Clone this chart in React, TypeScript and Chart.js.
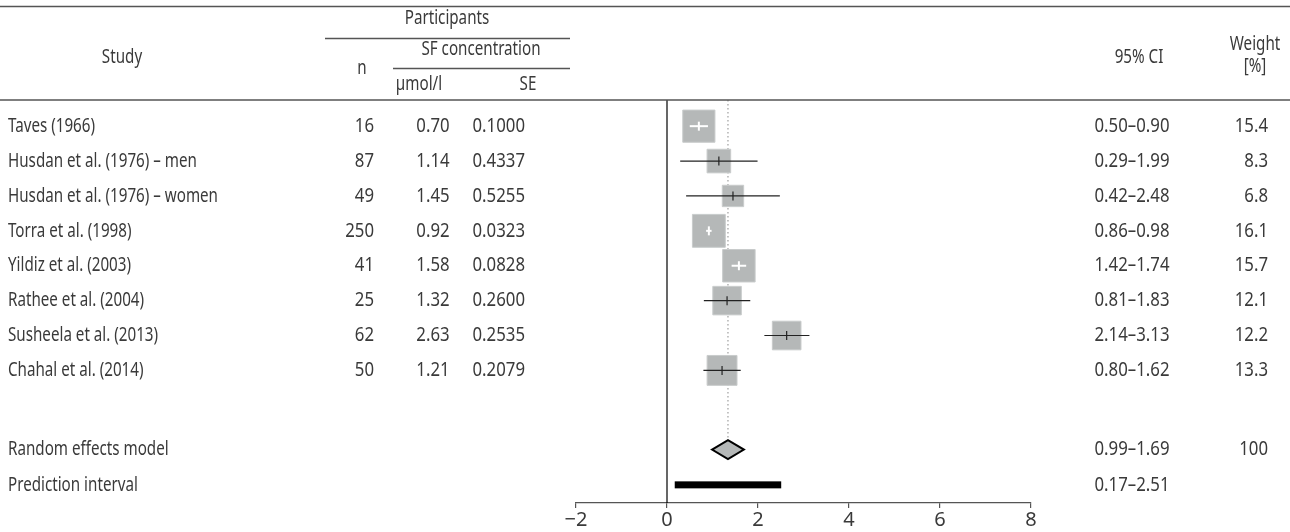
import React, { useEffect, useRef } from "react";
import { Chart, registerables } from "chart.js";

Chart.register(...registerables);

// ---------- data ----------
const studies = [
  "Taves (1966)",
  "Husdan et al. (1976) \u2013 men",
  "Husdan et al. (1976) \u2013 women",
  "Torra et al. (1998)",
  "Yildiz et al. (2003)",
  "Rathee et al. (2004)",
  "Susheela et al. (2013)",
  "Chahal et al. (2014)",
];
const nParticipants = [16, 87, 49, 250, 41, 25, 62, 50];
const meanConc = [0.7, 1.14, 1.45, 0.92, 1.58, 1.32, 2.63, 1.21];
const seConc = [0.1, 0.4337, 0.5255, 0.0323, 0.0828, 0.26, 0.2535, 0.2079];
const ciLower = [0.5, 0.29, 0.42, 0.86, 1.42, 0.81, 2.14, 0.8];
const ciUpper = [0.9, 1.99, 2.48, 0.98, 1.74, 1.83, 3.13, 1.62];
const weights = [15.4, 8.3, 6.8, 16.1, 15.7, 12.1, 12.2, 13.3];

const pooledEst = 1.34;
const pooledLower = 0.99;
const pooledUpper = 1.69;
const pooledWeight = 100;
const predLower = 0.17;
const predUpper = 2.51;

const xTicks = [-2, 0, 2, 4, 6, 8];

// row positions (in row units)
const RE_ROW = 9.27;
const PI_ROW = 10.28;

const FONT = '"Noto Sans", "Open Sans", sans-serif';
const FS = 20;
const TEXT = "#3a3a3a";
const LINE = "#555555";
const SQ_FILL = "#b5b8b8";
// condensed look: target widths of reference strings
const LABEL_TARGET_W = 210; // width of the longest study label
const NUM_TARGET_W = 75; // width of a "0.00–0.00" interval

const fmt2 = (v: number) => v.toFixed(2);
const ciText = (a: number, b: number) => `${fmt2(a)}\u2013${fmt2(b)}`;
const sideFor = (w: number) => 8.2 * Math.sqrt(w);

export default function App() {
  const ref = useRef<HTMLCanvasElement | null>(null);

  useEffect(() => {
    document.body.style.margin = "0";
    let chart: Chart | null = null;
    let cancelled = false;

    const tablePlugin = {
      id: "forestExtras",
      beforeDatasetsDraw(c: any) {
        const ctx = c.ctx as CanvasRenderingContext2D;
        const xs = c.scales.x;
        const ys = c.scales.y;
        const area = c.chartArea;
        ctx.save();
        const px = xs.getPixelForValue(pooledEst);
        const diamondTop = ys.getPixelForValue(RE_ROW) - 10;
        ctx.strokeStyle = "#8a8a8a";
        ctx.lineWidth = 1;
        ctx.setLineDash([1.5, 2.5]);
        ctx.beginPath();
        ctx.moveTo(px, area.top);
        ctx.lineTo(px, diamondTop);
        ctx.stroke();
        ctx.setLineDash([]);
        const zx = xs.getPixelForValue(0);
        ctx.strokeStyle = "#000";
        ctx.lineWidth = 1.2;
        ctx.beginPath();
        ctx.moveTo(zx, area.top);
        ctx.lineTo(zx, area.bottom);
        ctx.stroke();
        ctx.restore();
      },
      afterDatasetsDraw(c: any) {
        const ctx = c.ctx as CanvasRenderingContext2D;
        const xs = c.scales.x;
        const ys = c.scales.y;
        ctx.save();
        studies.forEach((_, i) => {
          const y = ys.getPixelForValue(i);
          const xm = xs.getPixelForValue(meanConc[i]);
          const xl = xs.getPixelForValue(ciLower[i]);
          const xh = xs.getPixelForValue(ciUpper[i]);
          const half = sideFor(weights[i]) / 2;
          const inside = xl >= xm - half && xh <= xm + half;
          ctx.strokeStyle = inside ? "#ffffff" : "#222222";
          ctx.lineWidth = inside ? 2 : 1.2;
          ctx.beginPath();
          ctx.moveTo(xl, y);
          ctx.lineTo(xh, y);
          ctx.stroke();
          ctx.beginPath();
          ctx.moveTo(xm, y - 4.5);
          ctx.lineTo(xm, y + 4.5);
          ctx.stroke();
        });
        const dy = ys.getPixelForValue(RE_ROW);
        const dl = xs.getPixelForValue(pooledLower);
        const dh = xs.getPixelForValue(pooledUpper);
        const dm = xs.getPixelForValue(pooledEst);
        ctx.beginPath();
        ctx.moveTo(dl, dy);
        ctx.lineTo(dm, dy - 9.5);
        ctx.lineTo(dh, dy);
        ctx.lineTo(dm, dy + 9.5);
        ctx.closePath();
        ctx.fillStyle = SQ_FILL;
        ctx.fill();
        ctx.strokeStyle = "#000";
        ctx.lineWidth = 2;
        ctx.stroke();
        const py = ys.getPixelForValue(PI_ROW);
        const pl = xs.getPixelForValue(predLower);
        const ph = xs.getPixelForValue(predUpper);
        ctx.fillStyle = "#000";
        ctx.fillRect(pl, py - 3.5, ph - pl, 7);
        ctx.restore();
      },
      afterDraw(c: any) {
        const ctx = c.ctx as CanvasRenderingContext2D;
        const ys = c.scales.y;
        const area = c.chartArea;
        const W = c.width;
        ctx.save();
        ctx.strokeStyle = LINE;
        ctx.lineWidth = 1.6;
        const hl = (x1: number, x2: number, y: number) => {
          ctx.beginPath();
          ctx.moveTo(x1, y);
          ctx.lineTo(x2, y);
          ctx.stroke();
        };
        hl(0, W, 6.5);
        hl(325, 570, 38.5);
        hl(393, 570, 68.5);
        hl(0, W, area.top);

        ctx.fillStyle = TEXT;
        ctx.font = `${FS}px ${FONT}`;
        ctx.textBaseline = "middle";
        const sxLabel = LABEL_TARGET_W / ctx.measureText(studies[2]).width;
        const sxNum = NUM_TARGET_W / ctx.measureText(ciText(0.5, 0.9)).width;
        const txt = (s: string, x: number, y: number, align: CanvasTextAlign, sx: number) => {
          ctx.save();
          ctx.translate(x, y);
          ctx.scale(sx, 1);
          ctx.textAlign = align;
          ctx.fillText(s, 0, 0);
          ctx.restore();
        };
        // header text
        txt("Study", 122, 57, "center", sxLabel);
        txt("n", 362, 68, "center", sxLabel);
        txt("Participants", 447, 18, "center", sxLabel);
        txt("SF concentration", 481, 49, "center", sxLabel);
        txt("\u00b5mol/l", 419, 84, "center", sxLabel);
        txt("SE", 528, 84, "center", sxLabel);
        txt("95% CI", 1139, 57, "center", sxLabel);
        txt("Weight", 1255, 44, "center", sxLabel);
        txt("[%]", 1255, 66, "center", sxLabel);

        studies.forEach((s, i) => {
          const y = ys.getPixelForValue(i);
          txt(s, 8, y, "left", sxLabel);
          txt(String(nParticipants[i]), 374, y, "right", sxNum);
          txt(fmt2(meanConc[i]), 433, y, "center", sxNum);
          txt(seConc[i].toFixed(4), 525, y, "right", sxNum);
          txt(ciText(ciLower[i], ciUpper[i]), 1132, y, "center", sxNum);
          txt(weights[i].toFixed(1), 1268, y, "right", sxNum);
        });
        const ry = ys.getPixelForValue(RE_ROW);
        txt("Random effects model", 8, ry, "left", sxLabel);
        txt(ciText(pooledLower, pooledUpper), 1132, ry, "center", sxNum);
        txt(String(pooledWeight), 1268, ry, "right", sxNum);
        const py = ys.getPixelForValue(PI_ROW);
        txt("Prediction interval", 8, py, "left", sxLabel);
        txt(ciText(predLower, predUpper), 1132, py, "center", sxNum);
        ctx.restore();
      },
    };

    const create = () => {
      if (cancelled || !ref.current) return;
      chart = new Chart(ref.current, {
        type: "scatter",
        data: {
          datasets: [
            {
              data: studies.map((_, i) => ({ x: meanConc[i], y: i })),
              pointStyle: "rect",
              pointRadius: (ctx: any) => sideFor(weights[ctx.dataIndex]) / (2 * Math.SQRT1_2),
              pointHoverRadius: (ctx: any) => sideFor(weights[ctx.dataIndex]) / (2 * Math.SQRT1_2),
              backgroundColor: SQ_FILL,
              borderColor: "#c9cccc",
              borderWidth: 1,
            },
          ],
        },
        options: {
          responsive: false,
          animation: false,
          events: [],
          layout: { padding: { left: 576, right: 259, top: 100, bottom: 0 } },
          plugins: { legend: { display: false }, tooltip: { enabled: false } },
          scales: {
            x: {
              type: "linear",
              min: -2,
              max: 8,
              afterBuildTicks: (axis: any) => {
                axis.ticks = xTicks.map((v) => ({ value: v }));
              },
              grid: { drawOnChartArea: false, tickLength: 5, color: LINE, lineWidth: 1.2 },
              border: { color: LINE, width: 1.2 },
              ticks: {
                color: TEXT,
                font: { family: FONT, size: 20 },
                padding: 0,
                maxRotation: 0,
                callback: (v: any) => (Number(v) < 0 ? "\u2212" + Math.abs(Number(v)) : String(v)),
              },
            },
            y: {
              type: "linear",
              min: -0.75,
              max: 10.8,
              reverse: true,
              display: false,
            },
          },
        },
        plugins: [tablePlugin],
      } as any);
    };

    const fontsApi = (document as any).fonts;
    if (fontsApi && fontsApi.load) {
      fontsApi.load(`${FS}px "Noto Sans"`).then(create, create);
    } else {
      create();
    }

    return () => {
      cancelled = true;
      if (chart) chart.destroy();
    };
  }, []);

  return <canvas ref={ref} width={1290} height={532} style={{ display: "block" }} />;
}
